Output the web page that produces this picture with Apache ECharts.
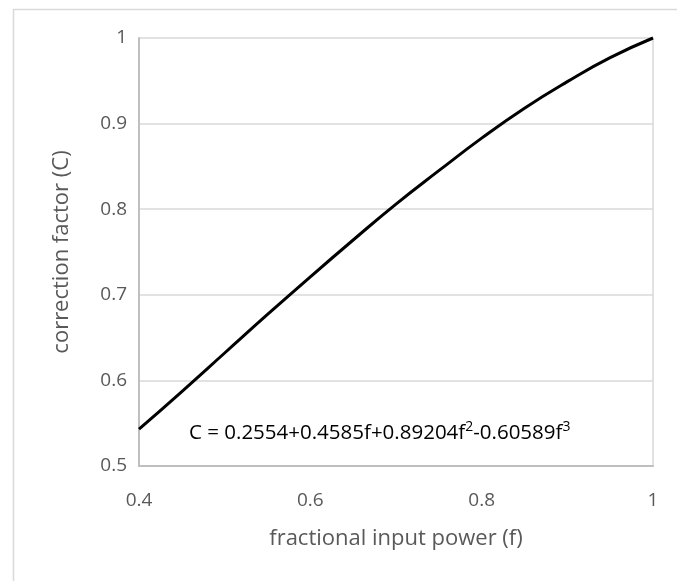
<!DOCTYPE html>
<html>
<head>
<meta charset="utf-8">
<script src="https://cdn.jsdelivr.net/npm/echarts@6/dist/echarts.min.js"></script>
<style>
html,body{margin:0;padding:0;background:#fff;}
#chart{width:677px;height:581px;}
</style>
</head>
<body>
<div id="chart"></div>
<script>
var fValues = [0.40, 0.45, 0.50, 0.55, 0.60, 0.65, 0.70, 0.75, 0.80, 0.85, 0.90, 0.95, 1.00];
var cValues = [0.543, 0.587, 0.632, 0.677, 0.721, 0.764, 0.806, 0.845, 0.883, 0.918, 0.949, 0.977, 1.000];
var xTicks = [0.4, 0.6, 0.8, 1];
var yTicks = [0.5, 0.6, 0.7, 0.8, 0.9, 1];
var xName = 'fractional input power (f)';
var yName = 'correction factor (C)';

var font = 'Open Sans';
var chart = echarts.init(document.getElementById('chart'), null, {renderer: 'canvas'});
var data = fValues.map(function (f, i) { return [f, cValues[i]]; });

chart.setOption({
  animation: false,
  backgroundColor: '#fff',
  grid: {left: 139, right: 24, top: 38, bottom: 115, containLabel: false},
  xAxis: {
    type: 'value', min: 0.4, max: 1, interval: 0.2,
    name: xName, nameLocation: 'middle', nameGap: 62,
    nameTextStyle: {fontFamily: font, fontSize: 22, color: '#595959'},
    axisLine: {show: true, lineStyle: {color: '#bfbfbf', width: 2}},
    axisTick: {show: false},
    splitLine: {show: false},
    axisLabel: {fontFamily: font, fontSize: 19, color: '#595959', margin: 25,
      formatter: function (v) { return String(Math.round(v * 10) / 10); }}
  },
  yAxis: [{
    type: 'value', min: 0.5, max: 1, interval: 0.1,
    name: yName, nameLocation: 'middle', nameGap: 66,
    nameTextStyle: {fontFamily: font, fontSize: 22, color: '#595959'},
    axisLine: {show: true, lineStyle: {color: '#bfbfbf', width: 2}},
    axisTick: {show: false},
    splitLine: {show: true, lineStyle: {color: '#d9d9d9', width: 1.5}},
    axisLabel: {fontFamily: font, fontSize: 19, color: '#595959', margin: 12,
      formatter: function (v) { return String(Math.round(v * 10) / 10); }}
  }, {
    type: 'value', min: 0.5, max: 1, interval: 0.1, position: 'right',
    axisLine: {show: true, lineStyle: {color: '#d9d9d9', width: 1.5}},
    axisTick: {show: false}, axisLabel: {show: false}, splitLine: {show: false}
  }],
  graphic: [{
    type: 'rect', z: -1, silent: true,
    shape: {x: 13.5, y: 9.5, width: 700, height: 620},
    style: {fill: 'none', stroke: '#d9d9d9', lineWidth: 1.5}
  }, {
    type: 'text', left: 189, top: 420,
    style: {
      text: '{n|C = 0.2554+0.4585f+0.89204f}{s|2}{n|-0.60589f}{s|3}',
      rich: {
        n: {fontFamily: font, fontSize: 20.5, color: '#404040', lineHeight: 27, verticalAlign: 'middle'},
        s: {fontFamily: font, fontSize: 14, color: '#404040', lineHeight: 20, verticalAlign: 'top'}
      }
    }
  }],
  series: [{
    type: 'line', data: data, smooth: true, showSymbol: false,
    lineStyle: {color: '#000', width: 3}, clip: false
  }]
});
</script>
</body>
</html>
